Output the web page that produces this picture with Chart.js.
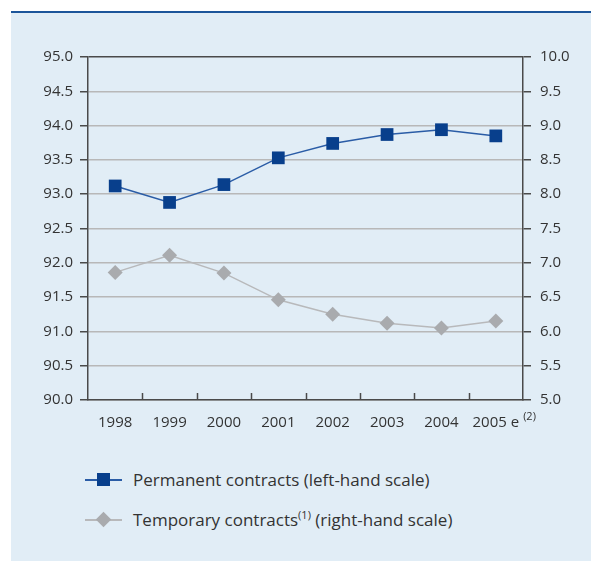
<!DOCTYPE html>
<html>
<head>
<meta charset="utf-8">
<script src="https://cdn.jsdelivr.net/npm/chart.js@4/dist/chart.umd.min.js"></script>
<style>
  html, body { margin: 0; padding: 0; background: #fff; }
  body { width: 591px; height: 561px; position: relative; overflow: hidden; font-family: "Open Sans", "Noto Sans", sans-serif; color: #333; }
  #topline { position: absolute; left: 11px; top: 11px; width: 580px; height: 2px; background: #1c559a; }
  #panel { position: absolute; left: 11px; top: 13px; width: 580px; height: 548px; background: #e1edf6; }
  #wrap { position: absolute; left: 0; top: 0; width: 580px; height: 420px; }
  .legend-row { position: absolute; left: 74px; height: 22px; font-size: 17px; line-height: 22px; white-space: nowrap; }
  .legend-row .key { position: absolute; left: 0; top: 10px; width: 37px; height: 1.5px; }
  .legend-row .mark { position: absolute; }
  .legend-row .txt { position: absolute; left: 48px; top: 0; }
  .legend-row sup { font-size: 11px; vertical-align: 7px; line-height: 0; }
</style>
</head>
<body>
<div id="topline"></div>
<div id="panel">
  <div id="wrap"><canvas id="chart"></canvas></div>
  <div class="legend-row" style="top:456px">
    <div class="key" style="background:#2a5ca6"></div>
    <div class="mark" style="left:12px;top:4px;width:13px;height:13px;background:#083f8c"></div>
    <div class="txt">Permanent contracts (left-hand scale)</div>
  </div>
  <div class="legend-row" style="top:496px">
    <div class="key" style="background:#b8b9bb"></div>
    <div class="mark" style="left:13px;top:5px;width:11px;height:11px;background:#a9abae;transform:rotate(45deg)"></div>
    <div class="txt">Temporary contracts<sup>(1)</sup> (right-hand scale)</div>
  </div>
</div>
<script>
  // values
  var years = [ '1998', '1999', '2000', '2001', '2002', '2003', '2004', '2005 e' ];
  var permanent = [ 93.12, 92.88, 93.14, 93.53, 93.74, 93.87, 93.94, 93.85 ];
  var temporary = [ 6.86, 7.11, 6.85, 6.46, 6.25, 6.12, 6.05, 6.15 ];
  var leftTicks = [ 90, 90.5, 91, 91.5, 92, 92.5, 93, 93.5, 94, 94.5, 95 ];
  var rightTicks = [ 5, 5.5, 6, 6.5, 7, 7.5, 8, 8.5, 9, 9.5, 10 ];
  var lastNote = '(2)';

  var axisDark = '#4a4a4a';
  var gridGrey = '#b8b8b8';
  var fontFamily = '"Open Sans", "Noto Sans", sans-serif';
  var tickSize = 15;

  // small up-pointing ticks between the categories, plus the superscript on the last label
  var extrasPlugin = {
    id: 'extras',
    afterDraw: function( chart ) {
      var ctx = chart.ctx;
      var x = chart.scales.x;
      var area = chart.chartArea;
      var step = x.getPixelForValue( 1 ) - x.getPixelForValue( 0 );
      ctx.save();
      ctx.strokeStyle = axisDark;
      ctx.lineWidth = 1.5;
      for ( var i = 0; i < years.length - 1; i++ ) {
        var px = Math.round( x.getPixelForValue( i ) + step / 2 ) + 0.5;
        ctx.beginPath();
        ctx.moveTo( px, area.bottom );
        ctx.lineTo( px, area.bottom - 7 );
        ctx.stroke();
      }
      ctx.font = tickSize + 'px ' + fontFamily;
      var last = years.length - 1;
      var w = ctx.measureText( years[ last ] ).width;
      var lx = x.getPixelForValue( last ) + w / 2 + 4;
      ctx.font = '11px ' + fontFamily;
      ctx.fillStyle = '#333';
      ctx.textBaseline = 'top';
      ctx.fillText( lastNote, lx, area.bottom + 11 );
      ctx.restore();
    }
  };

  new Chart( document.getElementById( 'chart' ), {
    type: 'line',
    data: {
      labels: years,
      datasets: [
        {
          label: 'Permanent contracts (left-hand scale)',
          data: permanent,
          yAxisID: 'y',
          borderColor: '#2a5ca6',
          borderWidth: 1.5,
          backgroundColor: '#083f8c',
          pointBackgroundColor: '#083f8c',
          pointBorderColor: '#083f8c',
          pointBorderWidth: 0,
          pointStyle: 'rect',
          pointRadius: 9,
          tension: 0
        },
        {
          label: 'Temporary contracts (right-hand scale)',
          data: temporary,
          yAxisID: 'y2',
          borderColor: '#b8b9bb',
          borderWidth: 1.5,
          backgroundColor: '#a9abae',
          pointBackgroundColor: '#a9abae',
          pointBorderColor: '#a9abae',
          pointBorderWidth: 0,
          pointStyle: 'rectRot',
          pointRadius: 7.5,
          tension: 0
        }
      ]
    },
    options: {
      responsive: true,
      maintainAspectRatio: false,
      animation: false,
      layout: { padding: { top: 44, left: 0, right: 0, bottom: 0 } },
      plugins: {
        legend: { display: false },
        tooltip: { enabled: false }
      },
      scales: {
        x: {
          offset: true,
          afterFit: function( s ) { s.height = 33; },
          grid: { display: true, drawOnChartArea: false, drawTicks: false },
          border: { color: axisDark, width: 1.5 },
          ticks: { color: '#333', padding: 14, font: { family: fontFamily, size: tickSize }, maxRotation: 0 }
        },
        y: {
          position: 'left',
          min: 90,
          max: 95,
          afterFit: function( s ) { s.width = 77; },
          afterBuildTicks: function( s ) { s.ticks = leftTicks.map( function( v ) { return { value: v }; } ); },
          grid: {
            color: function( c ) { return c.tick && c.tick.value === 95 ? axisDark : gridGrey; },
            lineWidth: 1.5,
            tickColor: axisDark,
            tickLength: 8
          },
          border: { color: axisDark, width: 1.5 },
          ticks: {
            color: '#333',
            padding: 7,
            font: { family: fontFamily, size: tickSize },
            callback: function( v ) { return Number( v ).toFixed( 1 ); }
          }
        },
        y2: {
          position: 'right',
          min: 5,
          max: 10,
          afterFit: function( s ) { s.width = 68; },
          afterBuildTicks: function( s ) { s.ticks = rightTicks.map( function( v ) { return { value: v }; } ); },
          grid: { drawOnChartArea: false, tickColor: axisDark, tickLength: 8, lineWidth: 1.5 },
          border: { color: axisDark, width: 1.5 },
          ticks: {
            color: '#333',
            padding: 9,
            font: { family: fontFamily, size: tickSize },
            callback: function( v ) { return Number( v ).toFixed( 1 ); }
          }
        }
      }
    },
    plugins: [ extrasPlugin ]
  } );
</script>
</body>
</html>
